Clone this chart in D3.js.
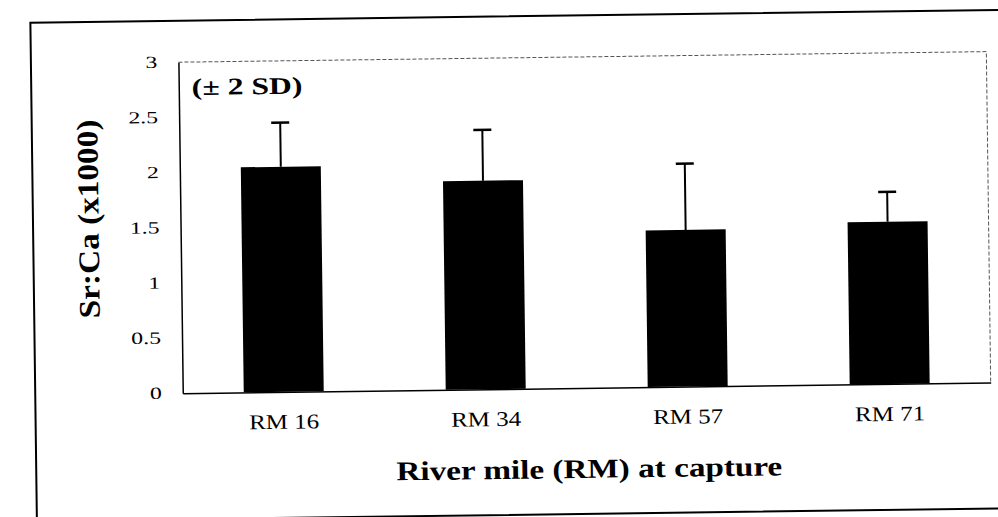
<!DOCTYPE html>
<html>
<head>
<meta charset="utf-8">
<script src="https://cdn.jsdelivr.net/npm/d3@7"></script>
<style>
  html, body { margin: 0; padding: 0; background: #fff; }
  svg { display: block; }
  text { font-family: "Liberation Serif", "Times New Roman", serif; fill: #000; }
</style>
</head>
<body>
<svg id="chart" width="998" height="517"></svg>
<script>
// ---- data ----
const categories = ["RM 16", "RM 34", "RM 57", "RM 71"];
const means = [2.04, 1.89, 1.42, 1.47];
const sd2 = [0.40, 0.46, 0.60, 0.27];
const yTicks = [0, 0.5, 1, 1.5, 2, 2.5, 3];
const yTickLabels = ["0", "0.5", "1", "1.5", "2", "2.5", "3"];
const yTitle = "Sr:Ca (x1000)";
const xTitle = "River mile (RM) at capture";
const note = "(\u00b1 2 SD)";

// ---- layout ----
const svg = d3.select("#chart");
const root = svg.append("g").attr("transform", "rotate(-0.75,500,258)");

const pLeft = 181, pRight = 989, pTop = 58, pBottom = 389;

const x = d3.scaleBand().domain(categories).range([pLeft, pRight])
  .paddingInner(0.604).paddingOuter(0.302);
const y = d3.scaleLinear().domain([0, 3]).range([pBottom, pTop]);

// outer frame
root.append("path")
  .attr("d", `M1015,16.5 H33.5 V530 M33.5,515 H1015`)
  .attr("fill", "none").attr("stroke", "#000").attr("stroke-width", 2);

// plot area border (top, right) faint dotted
root.append("path")
  .attr("d", `M${pLeft},${pTop} H${pRight} V${pBottom}`)
  .attr("fill", "none").attr("stroke", "#555").attr("stroke-width", 1)
  .attr("stroke-dasharray", "4,2");

// bars
root.selectAll("rect.bar").data(categories).join("rect")
  .attr("class", "bar")
  .attr("x", d => x(d))
  .attr("width", x.bandwidth())
  .attr("y", (d, i) => y(means[i]))
  .attr("height", (d, i) => y(0) - y(means[i]))
  .attr("fill", "#000");

// error bars (upper only)
const eb = root.selectAll("g.err").data(categories).join("g").attr("class", "err");
eb.append("line")
  .attr("x1", d => x(d) + x.bandwidth() / 2)
  .attr("x2", d => x(d) + x.bandwidth() / 2)
  .attr("y1", (d, i) => y(means[i]))
  .attr("y2", (d, i) => y(means[i] + sd2[i]))
  .attr("stroke", "#000").attr("stroke-width", 2);
eb.append("line")
  .attr("x1", d => x(d) + x.bandwidth() / 2 - 9)
  .attr("x2", d => x(d) + x.bandwidth() / 2 + 9)
  .attr("y1", (d, i) => y(means[i] + sd2[i]))
  .attr("y2", (d, i) => y(means[i] + sd2[i]))
  .attr("stroke", "#000").attr("stroke-width", 2.5);

// axes
const yAxis = d3.axisLeft(y).tickValues(yTicks).tickSize(0).tickPadding(0)
  .tickFormat((d, i) => yTickLabels[i]);
const gy = root.append("g").attr("transform", `translate(${pLeft},0)`).call(yAxis);
gy.select(".domain").attr("stroke", "#000").attr("stroke-width", 1.5);
gy.selectAll(".tick text")
  .attr("x", null).attr("dy", null)
  .attr("font-family", "Liberation Serif").attr("font-size", 17)
  .attr("text-anchor", "end").attr("dominant-baseline", "middle")
  .attr("transform", "translate(-21,1) scale(1.4,1)");

const xAxis = d3.axisBottom(x).tickSize(0).tickPadding(0);
const gx = root.append("g").attr("transform", `translate(0,${pBottom})`).call(xAxis);
gx.select(".domain").attr("stroke", "#000").attr("stroke-width", 1.5);
gx.selectAll(".tick text")
  .attr("y", null).attr("dy", null)
  .attr("font-family", "Liberation Serif").attr("font-size", 21)
  .attr("text-anchor", "middle")
  .attr("transform", "translate(0,37) scale(1.19,1)");

// note
root.append("text")
  .attr("transform", "translate(194,91) scale(1.32,1)")
  .attr("font-size", 24).attr("font-weight", "bold")
  .text(note);

// y title
root.append("text")
  .attr("transform", "translate(99,213.6) rotate(-90) scale(1.28,1.15)")
  .attr("text-anchor", "middle")
  .attr("font-size", 26).attr("font-weight", "bold")
  .text(yTitle);

// x title
root.append("text")
  .attr("transform", "translate(586.5,479) scale(1.23,1)")
  .attr("text-anchor", "middle")
  .attr("font-size", 27).attr("font-weight", "bold")
  .text(xTitle);
</script>
</body>
</html>
